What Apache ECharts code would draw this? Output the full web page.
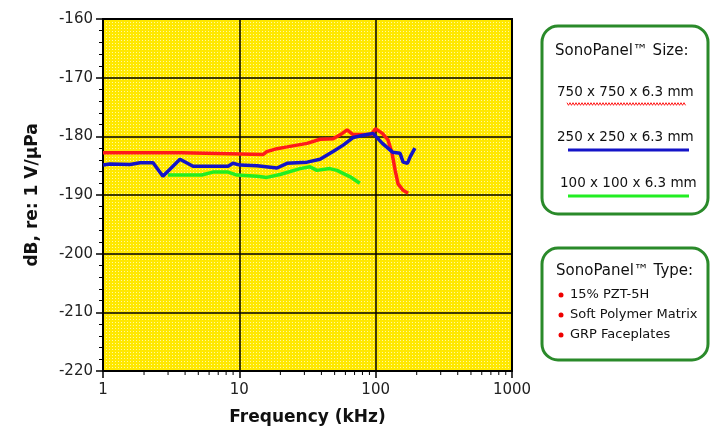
<!DOCTYPE html>
<html>
<head>
<meta charset="utf-8">
<script src="https://cdn.jsdelivr.net/npm/echarts@6/dist/echarts.min.js"></script>
<style>
html,body{margin:0;padding:0;background:#fff;}
#chart{width:710px;height:435px;}
</style>
</head>
<body>
<div id="chart"></div>
<script>
// ---- data ----
const redFreq  = [1, 3.8, 3.9, 14.9, 15.9, 18.9, 22.4, 31.4, 39.1, 48.7, 56.9, 61.7, 68.2, 93, 99.6, 112, 123, 132, 139, 146, 159, 173];
const redDb    = [-182.8, -182.8, -183.1, -183.1, -182.6, -182.1, -181.8, -181.2, -180.5, -180.4, -179.5, -178.9, -179.7, -179.7, -178.7, -179.5, -180.6, -182.9, -185.8, -188.1, -189.2, -189.7];
const blueFreq = [1, 1.125, 1.58, 1.87, 2.33, 2.75, 3.67, 4.57, 8.27, 8.98, 10.1, 13.5, 18.9, 22.4, 31.4, 39.1, 48.7, 57.8, 68.2, 86.3, 95.6, 112, 133, 151, 159, 171, 179, 194];
const blueDb   = [-184.9, -184.7, -184.8, -184.5, -184.5, -186.8, -183.9, -185.1, -185.1, -184.6, -184.9, -185.0, -185.4, -184.6, -184.4, -183.9, -182.6, -181.5, -180.2, -179.7, -179.5, -181.2, -182.7, -182.9, -184.4, -184.6, -183.5, -182.0];
const greenFreq = [3.0, 5.3, 6.4, 8.27, 9.6, 13.5, 15.9, 19.9, 27.9, 33, 37.1, 46, 52, 65, 76.5];
const greenDb   = [-186.6, -186.6, -186.1, -186.1, -186.6, -186.8, -187.0, -186.5, -185.5, -185.2, -185.8, -185.5, -185.8, -186.9, -188.0];
const xMinorTicks = [2,3,4,5,6,7,8,9,20,30,40,50,60,70,80,90,200,300,400,500,600,700,800,900];
const yAxisMin = -220, yAxisMax = -160, yInterval = 10;
const xAxisMin = 1, xAxisMax = 1000;
const sizeLabels = ['750 x 750 x 6.3 mm', '250 x 250 x 6.3 mm', '100 x 100 x 6.3 mm'];
const typeLabels = ['15% PZT-5H', 'Soft Polymer Matrix', 'GRP Faceplates'];
const sizeTitle = 'SonoPanel\u2122 Size:';
const typeTitle = 'SonoPanel\u2122 Type:';
const xTitle = 'Frequency (kHz)';
const yTitle = 'dB, re: 1 V/\u03bcPa';

function zip(a, b){ return a.map((v,i)=>[v, b[i]]); }

// dotted yellow pattern
const tile = document.createElement('canvas');
tile.width = 3; tile.height = 3;
const tc = tile.getContext('2d');
tc.fillStyle = '#FFE800'; tc.fillRect(0,0,3,3);
tc.fillStyle = '#FFF7A0'; tc.fillRect(1,1,1,1);

const FONT = '"DejaVu Sans", Verdana, sans-serif';
const chart = echarts.init(document.getElementById('chart'), null, {renderer:'canvas'});

// wavy underline for red legend entry
const wave = [];
for (let x = 567, k = 0; x <= 686; x += 1.5, k++) wave.push([x, 104 + (k % 2 ? 1.3 : -1.3)]);

const colRed = '#ff1a1a', colBlue = '#1414c8', colGreen = '#22ee22', boxGreen = '#2a8a2a';
const titleFont = '15px ' + FONT;
const labelFont = '13.5px ' + FONT;

const graphics = [
  {type:'rect', shape:{x:542, y:26, width:166, height:188, r:16}, style:{fill:'#fff', stroke:boxGreen, lineWidth:3}},
  {type:'text', x:555, y:51, style:{text:sizeTitle, font:titleFont, fill:'#111', verticalAlign:'middle'}},
  {type:'text', x:557, y:92, style:{text:sizeLabels[0], font:labelFont, fill:'#111', verticalAlign:'middle'}},
  {type:'polyline', shape:{points:wave}, style:{stroke:colRed, lineWidth:1, fill:null}},
  {type:'text', x:557, y:137, style:{text:sizeLabels[1], font:labelFont, fill:'#111', verticalAlign:'middle'}},
  {type:'line', shape:{x1:568, y1:150, x2:689, y2:150}, style:{stroke:colBlue, lineWidth:3}},
  {type:'text', x:560, y:183, style:{text:sizeLabels[2], font:labelFont, fill:'#111', verticalAlign:'middle'}},
  {type:'line', shape:{x1:568, y1:196, x2:689, y2:196}, style:{stroke:colGreen, lineWidth:3}},
  {type:'rect', shape:{x:542, y:248, width:166, height:112, r:16}, style:{fill:'#fff', stroke:boxGreen, lineWidth:3}},
  {type:'text', x:556, y:271, style:{text:typeTitle, font:titleFont, fill:'#111', verticalAlign:'middle'}}
];
typeLabels.forEach((t, i) => {
  const y = 295 + i * 20;
  graphics.push({type:'circle', shape:{cx:561, cy:y, r:2.5}, style:{fill:'#e00'}});
  graphics.push({type:'text', x:570, y:y, style:{text:t, font:'13px ' + FONT, fill:'#111', verticalAlign:'middle'}});
});

const option = {
  animation:false,
  backgroundColor:'#fff',
  grid:{left:103, right:198, top:19, bottom:64, show:true, backgroundColor:{image:tile, repeat:'repeat'}, borderColor:'#000', borderWidth:2},
  xAxis:{
    type:'log', logBase:10, min:xAxisMin, max:xAxisMax,
    name:xTitle, nameLocation:'middle', nameGap:38,
    nameTextStyle:{fontSize:17, fontWeight:'bold', color:'#111', fontFamily:FONT},
    axisLine:{lineStyle:{color:'#000', width:2}},
    axisTick:{show:true, length:7, lineStyle:{color:'#000', width:1.5}},
    axisLabel:{fontSize:15, color:'#222', fontFamily:FONT, margin:12, formatter:function(v){ return String(Math.round(v)); }},
    splitLine:{show:true, lineStyle:{color:'#000', width:1.5}},
    minorTick:{show:false}
  },
  yAxis:{
    type:'value', min:yAxisMin, max:yAxisMax, interval:yInterval,
    name:yTitle, nameLocation:'middle', nameGap:62,
    nameTextStyle:{fontSize:17, fontWeight:'bold', color:'#111', fontFamily:FONT},
    axisLine:{show:true, lineStyle:{color:'#000', width:2}},
    axisTick:{show:true, length:7, lineStyle:{color:'#000', width:1.5}},
    minorTick:{show:true, splitNumber:5, length:4, lineStyle:{color:'#000', width:1}},
    axisLabel:{fontSize:15, color:'#222', fontFamily:FONT, margin:10},
    splitLine:{show:true, lineStyle:{color:'#000', width:1.5}}
  },
  series:[
    {type:'line', data:zip(redFreq, redDb), showSymbol:false, lineStyle:{color:colRed, width:3.5}, z:3},
    {type:'line', data:zip(blueFreq, blueDb), showSymbol:false, lineStyle:{color:colBlue, width:3.5}, z:4},
    {type:'line', data:zip(greenFreq, greenDb), showSymbol:false, lineStyle:{color:colGreen, width:3.5}, z:2},
    {type:'custom', clip:false, silent:true, data:xMinorTicks.map(f=>[f, yAxisMin]),
      renderItem:function(params, api){
        const p = api.coord([api.value(0), api.value(1)]);
        return {type:'line', shape:{x1:p[0], y1:p[1], x2:p[0], y2:p[1]+4}, style:{stroke:'#000', lineWidth:1}};
      }}
  ],
  graphic:graphics
};
chart.setOption(option);
</script>
</body>
</html>
